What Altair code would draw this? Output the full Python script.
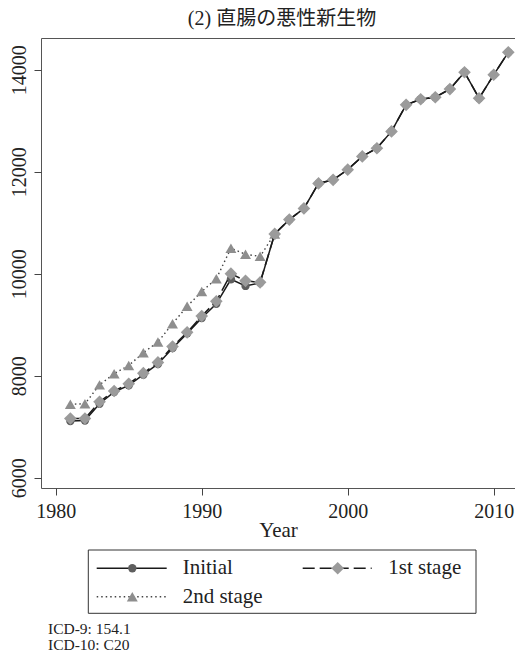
import altair as alt
import pandas as pd

# ---- data ----
years = list(range(1981, 2012))
initial = [7110, 7120, 7450, 7680, 7810, 8020, 8230, 8540, 8830, 9130, 9410, 9890, 9760, 9820,
           10780, 11060, 11280, 11770, 11840, 12040, 12300, 12460, 12790, 13310, 13420, 13460,
           13620, 13950, 13440, 13900, 14340]
first_stage = [7160, 7160, 7490, 7700, 7840, 8050, 8260, 8570, 8850, 9170, 9460, 10000, 9860, 9830,
               10780, 11060, 11280, 11770, 11840, 12040, 12300, 12460, 12790, 13310, 13420, 13460,
               13620, 13950, 13440, 13900, 14340]
second_years = list(range(1981, 1996))
second_stage = [7440, 7450, 7820, 8040, 8200, 8450, 8660, 9020, 9360, 9650, 9900, 10500, 10380, 10340,
                10780]
series_names = ["Initial", "1st stage", "2nd stage"]
x_ticks = [1980, 1990, 2000, 2010]
y_ticks = [6000, 8000, 10000, 12000, 14000]
title_text = "(2) 直腸の悪性新生物"
x_title = "Year"
notes = ["ICD-9: 154.1", "ICD-10: C20"]

df_init = pd.DataFrame({"year": years, "value": initial, "series": series_names[0]})
df_first = pd.DataFrame({"year": years, "value": first_stage, "series": series_names[1]})
df_second = pd.DataFrame({"year": second_years, "value": second_stage, "series": series_names[2]})

SERIF = "Liberation Serif"
TITLE_FONT = "Liberation Serif, Noto Sans CJK JP"
W, H = 474, 450

x_enc = alt.X("year:Q",
              scale=alt.Scale(domain=[1978.99, 2011.46], nice=False, zero=False),
              axis=alt.Axis(values=x_ticks, format="d", title=x_title, grid=False, domain=False,
                            tickSize=7, tickColor="#444", labelFont=SERIF, labelFontSize=20,
                            labelColor="#222", labelPadding=6, titleFont=SERIF, titleFontSize=21,
                            titleFontWeight="normal", titleColor="#222", titleBaseline="alphabetic",
                            titleY=48, labelFlush=False))
y_enc = alt.Y("value:Q",
              scale=alt.Scale(domain=[5798, 14621], nice=False, zero=False),
              axis=alt.Axis(values=y_ticks, format="d", title=None, grid=False, domain=False,
                            tickSize=7, tickColor="#444", labelFont=SERIF, labelFontSize=20,
                            labelColor="#222", labelAngle=270, labelAlign="center",
                            labelBaseline="bottom", labelPadding=5, labelFlush=False))

LINE_COL = "#1a1a1a"
DOT_COL = "#5e5e5e"
DIA_COL = "#9b9b9b"
TRI_COL = "#8e8e8e"

second_line = alt.Chart(df_second).mark_line(color="#444", strokeWidth=1.4, strokeDash=[1.5, 3]).encode(x=x_enc, y=y_enc)
second_pts = alt.Chart(df_second).mark_point(shape="triangle-up", filled=True, size=120, color=TRI_COL, opacity=1).encode(x=x_enc, y=y_enc)
init_line = alt.Chart(df_init).mark_line(color=LINE_COL, strokeWidth=1.5).encode(x=x_enc, y=y_enc)
init_pts = alt.Chart(df_init).mark_point(shape="circle", filled=True, size=70, color=DOT_COL, opacity=1).encode(x=x_enc, y=y_enc)
first_line = alt.Chart(df_first).mark_line(color=LINE_COL, strokeWidth=1.5, strokeDash=[12, 5]).encode(x=x_enc, y=y_enc)
first_pts = alt.Chart(df_first).mark_point(shape="diamond", filled=True, size=160, color=DIA_COL, opacity=1).encode(x=x_enc, y=y_enc)

dummy = pd.DataFrame({"k": [0]})

# chart title, drawn as text above the plot area
title_layer = alt.Chart(dummy).mark_text(align="center", baseline="alphabetic", font=TITLE_FONT,
                                         fontSize=20, color="#222").encode(
    x=alt.value(241), y=alt.value(-13), text=alt.value(title_text))

# legend box (drawn below the plot area)
leg_box = alt.Chart(dummy).mark_rect(fill="white", stroke="#333", strokeWidth=1).encode(
    x=alt.value(47.3), x2=alt.value(435), y=alt.value(512), y2=alt.value(575.3))

leg_specs = [
    # (label, line x1, x2, marker x, label x, row y, dash, line color, shape, size, fill)
    (series_names[0], 55.7, 125.7, 91.3, 141.7, 530.3, None, LINE_COL, "circle", 70, DOT_COL),
    (series_names[1], 261.7, 330.7, 296.7, 347.3, 530.3, [12, 5], LINE_COL, "diamond", 160, DIA_COL),
    (series_names[2], 55.7, 125.7, 91.3, 141.7, 558.7, [1.5, 3], "#444", "triangle-up", 120, TRI_COL),
]
leg_layers = [leg_box]
for lab, x1, x2, xm, xl, yy, dash, lc, shp, sz, fc in leg_specs:
    rule_kwargs = dict(color=lc, strokeWidth=1.5)
    if dash is not None:
        rule_kwargs["strokeDash"] = dash
    leg_layers.append(alt.Chart(dummy).mark_rule(**rule_kwargs).encode(
        x=alt.value(x1), x2=alt.value(x2), y=alt.value(yy)))
    leg_layers.append(alt.Chart(dummy).mark_point(shape=shp, filled=True, size=sz, color=fc, opacity=1).encode(
        x=alt.value(xm), y=alt.value(yy)))
    leg_layers.append(alt.Chart(dummy).mark_text(align="left", baseline="middle", font=SERIF, fontSize=21,
                                                 color="#222").encode(
        x=alt.value(xl), y=alt.value(yy), text=alt.value(lab)))

note_layers = []
for i, t in enumerate(notes):
    note_layers.append(alt.Chart(dummy).mark_text(align="left", baseline="alphabetic", font=SERIF,
                                                  fontSize=15.5, color="#222").encode(
        x=alt.value(7), y=alt.value(596 + 15.5 * i), text=alt.value(t)))

chart = alt.layer(
    second_line, second_pts, init_line, init_pts, first_line, first_pts,
    title_layer, *leg_layers, *note_layers
).properties(
    width=W, height=H,
    autosize=alt.AutoSizeParams(type="none"),
    padding={"left": 33, "top": 30, "right": 0, "bottom": 166},
).configure_view(stroke="#555", strokeWidth=1)

chart.save("out.html", embed_options={"renderer": "svg", "actions": False})
